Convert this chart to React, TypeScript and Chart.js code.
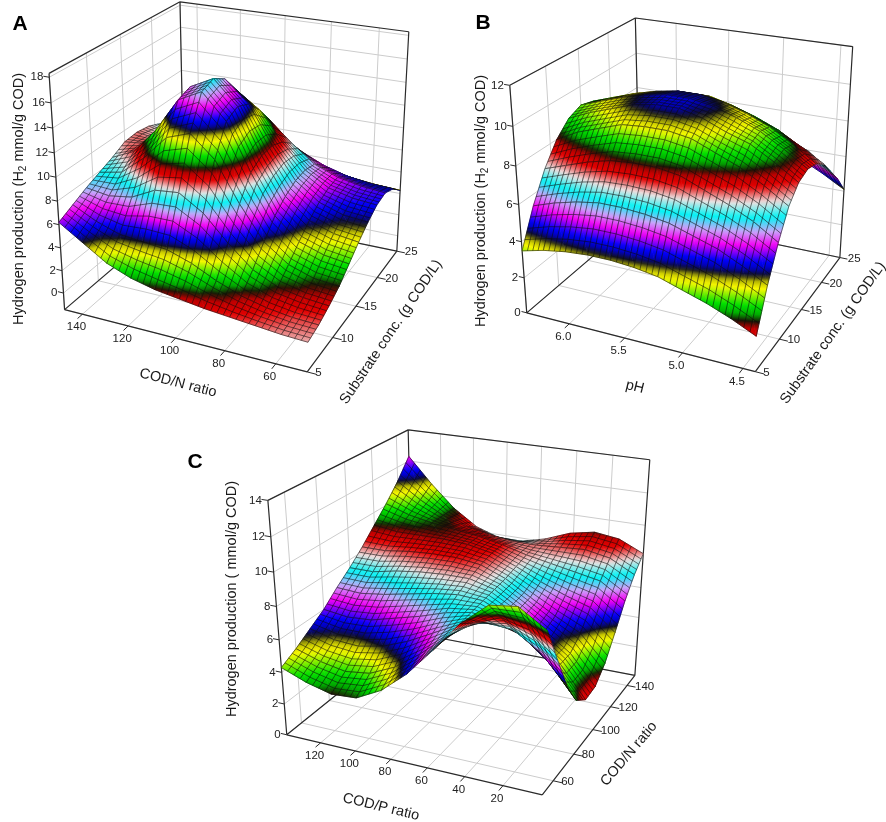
import { useEffect, useRef } from "react";
import Chart, { ChartConfiguration, Plugin } from "chart.js/auto";

// ---------------- Panel A: COD/N ratio x substrate concentration ----------------
const codNRatioA = [48, 58, 68, 78, 88, 98, 108, 118, 128, 138, 148];
const substrateA = [5, 7, 9, 11, 13, 15, 17, 19, 21, 23, 25];
// rows follow substrateA, columns follow codNRatioA
const hydrogenA = [
  [1.0, 1.1, 1.3, 1.5, 1.7, 2.0, 2.3, 2.8, 3.6, 4.9, 6.2],
  [1.3, 1.4, 1.7, 2.2, 3.0, 4.0, 4.7, 4.9, 5.1, 5.8, 6.8],
  [1.8, 2.0, 2.4, 3.4, 5.2, 7.3, 8.6, 8.4, 7.4, 7.1, 7.4],
  [2.4, 2.6, 3.3, 4.8, 7.6, 10.9, 12.7, 12.0, 9.9, 8.3, 7.9],
  [3.3, 3.6, 4.3, 6.1, 9.4, 13.3, 15.4, 14.4, 11.5, 9.3, 8.4],
  [4.2, 4.5, 5.2, 6.9, 10.0, 13.8, 15.8, 14.8, 11.6, 9.2, 9.0],
  [5.0, 5.2, 5.9, 7.4, 10.1, 13.3, 15.1, 14.2, 10.8, 8.8, 9.1],
  [5.6, 5.8, 6.3, 7.5, 9.6, 12.1, 13.5, 12.8, 9.8, 8.4, 8.9],
  [5.8, 6.0, 6.4, 7.2, 8.7, 10.5, 11.4, 10.9, 8.7, 8.0, 8.4],
  [5.3, 5.4, 5.7, 6.3, 7.2, 8.3, 8.8, 8.6, 7.4, 7.1, 7.5],
  [4.3, 4.4, 4.6, 4.9, 5.4, 6.0, 6.3, 6.3, 6.2, 6.3, 6.6],
];
const codNTicksA = [60, 80, 100, 120, 140];
const substrateTicks = [5, 10, 15, 20, 25];
const hydrogenTicksA = [0, 2, 4, 6, 8, 10, 12, 14, 16, 18];

// ---------------- Panel B: pH x substrate concentration ----------------
const pHB = [4.4, 4.6, 4.8, 5.0, 5.2, 5.4, 5.6, 5.8, 6.0, 6.2, 6.4];
const substrateB = [5, 7, 9, 11, 13, 15, 17, 19, 21, 23, 25];
const hydrogenB = [
  [1.9, 2.5, 3.0, 3.4, 3.8, 4.0, 4.1, 4.1, 4.0, 3.8, 3.5],
  [3.9, 4.6, 5.2, 5.6, 6.0, 6.2, 6.3, 6.3, 6.1, 5.8, 5.4],
  [5.5, 6.3, 6.9, 7.4, 7.9, 8.1, 8.1, 8.0, 7.7, 7.3, 6.9],
  [6.8, 7.6, 8.3, 8.8, 9.3, 9.5, 9.5, 9.4, 9.0, 8.6, 8.0],
  [7.5, 8.3, 9.0, 9.4, 9.9, 10.2, 10.2, 10.0, 9.6, 9.2, 8.7],
  [7.7, 8.5, 9.2, 9.7, 10.1, 10.3, 10.3, 10.1, 9.8, 9.4, 9.0],
  [7.5, 8.3, 9.0, 9.5, 9.9, 10.1, 10.1, 9.9, 9.6, 9.2, 8.8],
  [7.0, 7.7, 8.4, 8.9, 9.3, 9.6, 9.6, 9.4, 9.1, 8.7, 8.3],
  [6.1, 7.0, 7.5, 8.0, 8.4, 8.6, 8.7, 8.5, 8.3, 8.0, 7.5],
  [5.2, 5.9, 6.5, 6.9, 7.4, 7.6, 7.6, 7.5, 7.2, 7.0, 6.6],
  [4.1, 4.8, 5.4, 5.7, 6.2, 6.4, 6.5, 6.4, 6.2, 5.9, 5.5],
];
const pHTicksB = [4.5, 5.0, 5.5, 6.0];
const hydrogenTicksB = [0, 2, 4, 6, 8, 10, 12];

// ---------------- Panel C: COD/P ratio x COD/N ratio ----------------
const codPRatioC = [0, 14, 28, 42, 56, 70, 84, 98, 112, 126, 140];
const codNRatioC = [50, 60, 70, 80, 90, 100, 110, 120, 130, 140, 150];
const hydrogenC = [
  [9.5, 10.5, 10.3, 9.0, 7.2, 5.5, 4.2, 3.4, 3.3, 3.7, 4.3],
  [7.2, 8.6, 9.0, 8.4, 7.3, 6.0, 4.9, 4.2, 4.0, 4.3, 4.8],
  [5.0, 6.7, 7.7, 7.8, 7.4, 6.6, 5.8, 5.2, 4.9, 5.0, 5.4],
  [3.4, 5.3, 6.6, 7.3, 7.5, 7.2, 6.7, 6.3, 5.9, 5.8, 6.0],
  [2.7, 4.6, 5.9, 6.9, 7.6, 7.7, 7.5, 7.2, 6.9, 6.7, 6.8],
  [2.8, 4.6, 5.7, 6.8, 7.7, 8.1, 8.1, 8.0, 7.8, 7.5, 7.5],
  [3.6, 5.2, 6.0, 6.9, 7.8, 8.4, 8.6, 8.6, 8.5, 8.3, 8.3],
  [4.9, 6.2, 6.7, 7.3, 8.0, 8.6, 8.9, 9.0, 9.0, 9.0, 9.2],
  [6.3, 7.3, 7.6, 7.9, 8.2, 8.6, 8.9, 9.1, 9.3, 9.6, 10.1],
  [7.4, 8.2, 8.5, 8.4, 8.3, 8.3, 8.5, 8.8, 9.3, 10.1, 11.1],
  [8.2, 8.9, 9.1, 8.8, 8.2, 7.8, 7.8, 8.3, 9.3, 10.7, 12.3],
];
const codPTicksC = [20, 40, 60, 80, 100, 120];
const codNTicksC = [60, 80, 100, 120, 140];
const hydrogenTicksC = [0, 2, 4, 6, 8, 10, 12, 14];

// ---------------------------------------------------------------------------
type Vec3 = [number, number, number];
type Pt = [number, number];
type TitlePart = { text: string; sub?: boolean };

interface Panel {
  xs: number[];
  ys: number[];
  zs: number[][];
  xRange: [number, number];
  yRange: [number, number];
  zRange: [number, number];
  xTicks: number[];
  yTicks: number[];
  zTicks: number[];
  xDecimals: number;
  xTitle: string;
  yTitle: string;
  zTitle: TitlePart[];
  letter: string;
  corners: Pt[];
  letterAt: Pt;
  zTitleAt: Pt;
  xTitleAt: [number, number, number];
  yTitleAt: [number, number, number];
  z0: number;
  period: number;
}

const PAGE_W = 886;
const PAGE_H = 822;
const FONT = "'Liberation Sans', Arial, sans-serif";
const MESH_SUB = 4; // mesh lines drawn per data cell

const h2Title: TitlePart[] = [
  { text: "Hydrogen production (H" },
  { text: "2", sub: true },
  { text: " mmol/g COD)" },
];

// box corner order used for the camera fit
const BOX: Vec3[] = [
  [0, 0, 0], [1, 0, 0], [1, 1, 0], [0, 1, 0],
  [0, 0, 1], [1, 0, 1], [1, 1, 1], [0, 1, 1],
];

const panels: Panel[] = [
  {
    xs: codNRatioA, ys: substrateA, zs: hydrogenA,
    xRange: [48, 148], yRange: [5, 25], zRange: [-1.5, 18.3],
    xTicks: codNTicksA, yTicks: substrateTicks, zTicks: hydrogenTicksA, xDecimals: 0,
    xTitle: "COD/N ratio", yTitle: "Substrate conc. (g COD/L)", zTitle: h2Title, letter: "A",
    corners: [[65, 310], [307, 372], [397, 251], [184, 207], [49, 73], [313, 117], [409, 32], [180, 2]],
    letterAt: [20, 24], zTitleAt: [19, 199], xTitleAt: [178, 383, 14.5], yTitleAt: [391, 332, -56],
    z0: 0.8, period: 7.9,
  },
  {
    xs: pHB, ys: substrateB, zs: hydrogenB,
    xRange: [4.4, 6.4], yRange: [5, 25], zRange: [0, 12],
    xTicks: pHTicksB, yTicks: substrateTicks, zTicks: hydrogenTicksB, xDecimals: 1,
    xTitle: "pH", yTitle: "Substrate conc. (g COD/L)", zTitle: h2Title, letter: "B",
    corners: [[527, 313], [755, 372], [840, 257], [640, 216], [510, 85], [761.5, 127], [853, 47], [635, 18]],
    letterAt: [483, 23], zTitleAt: [481, 201], xTitleAt: [635, 387, 14], yTitleAt: [833, 333, -54.5],
    z0: 1.3, period: 5.7,
  },
  {
    xs: codPRatioC, ys: codNRatioC, zs: hydrogenC,
    xRange: [0, 140], yRange: [50, 150], zRange: [0, 14],
    xTicks: codPTicksC, yTicks: codNTicksC, zTicks: hydrogenTicksC, xDecimals: 0,
    xTitle: "COD/P ratio", yTitle: "COD/N ratio",
    zTitle: [{ text: "Hydrogen production ( mmol/g COD)" }], letter: "C",
    corners: [[287, 735], [542, 795], [635, 675], [413, 633], [268, 500], [550, 544], [650, 460], [408, 430]],
    letterAt: [195, 462], zTitleAt: [232, 599], xTitleAt: [381, 807, 13.7], yTitleAt: [629, 754, -49.8],
    z0: 2.11, period: 5.9,
  },
];

// colour bands repeating with height
const BAND_STOPS: [number, number[]][] = [
  [0, [236, 226, 226]],
  [0.1, [228, 0, 0]],
  [0.16, [190, 0, 0]],
  [0.205, [25, 20, 5]],
  [0.25, [0, 170, 0]],
  [0.31, [0, 225, 0]],
  [0.43, [250, 250, 0]],
  [0.475, [195, 195, 0]],
  [0.52, [15, 15, 30]],
  [0.565, [0, 0, 190]],
  [0.61, [0, 0, 250]],
  [0.72, [245, 0, 245]],
  [0.81, [200, 165, 250]],
  [0.9, [0, 245, 245]],
  [1, [236, 226, 226]],
];

function bandColor(z: number, panel: Panel): string {
  let c = ((z - panel.z0) / panel.period) % 1;
  if (c < 0) c += 1;
  for (let i = 1; i < BAND_STOPS.length; i++) {
    const [t1, c1] = BAND_STOPS[i];
    const [t0, c0] = BAND_STOPS[i - 1];
    if (c <= t1) {
      const f = (c - t0) / (t1 - t0);
      const rgb = c0.map((v, k) => Math.round(v + (c1[k] - v) * f));
      return `rgb(${rgb[0]},${rgb[1]},${rgb[2]})`;
    }
  }
  return "rgb(236,226,226)";
}

// perspective camera fitted to the drawn box corners (DLT)
function fitCamera(screen: Pt[]): number[] {
  const s = 0.01;
  const n = 11;
  const M = Array.from({ length: n }, () => new Array(n + 1).fill(0));
  const addRow = (row: number[], rhs: number) => {
    for (let i = 0; i < n; i++) {
      for (let j = 0; j < n; j++) M[i][j] += row[i] * row[j];
      M[i][n] += row[i] * rhs;
    }
  };
  BOX.forEach(([X, Y, Z], k) => {
    const u = screen[k][0] * s;
    const v = screen[k][1] * s;
    addRow([X, Y, Z, 1, 0, 0, 0, 0, -u * X, -u * Y, -u * Z], u);
    addRow([0, 0, 0, 0, X, Y, Z, 1, -v * X, -v * Y, -v * Z], v);
  });
  for (let c = 0; c < n; c++) {
    let p = c;
    for (let r = c + 1; r < n; r++) if (Math.abs(M[r][c]) > Math.abs(M[p][c])) p = r;
    [M[c], M[p]] = [M[p], M[c]];
    for (let r = 0; r < n; r++) {
      if (r === c) continue;
      const f = M[r][c] / M[c][c];
      for (let k = c; k <= n; k++) M[r][k] -= f * M[c][k];
    }
  }
  return M.map((row, i) => row[n] / row[i]);
}

function project(cam: number[], [x, y, z]: Vec3) {
  const w = cam[8] * x + cam[9] * y + cam[10] * z + 1;
  return {
    u: (cam[0] * x + cam[1] * y + cam[2] * z + cam[3]) / w / 0.01,
    v: (cam[4] * x + cam[5] * y + cam[6] * z + cam[7]) / w / 0.01,
    w,
  };
}

function fillTri(ctx: CanvasRenderingContext2D, p: Pt[], z: number[], panel: Panel) {
  const [x0, y0] = p[0];
  const [x1, y1] = p[1];
  const [x2, y2] = p[2];
  ctx.beginPath();
  ctx.moveTo(x0, y0);
  ctx.lineTo(x1, y1);
  ctx.lineTo(x2, y2);
  ctx.closePath();
  const det = (x1 - x0) * (y2 - y0) - (x2 - x0) * (y1 - y0);
  const zlo = Math.min(...z);
  const zhi = Math.max(...z);
  let style: string | CanvasGradient = bandColor((z[0] + z[1] + z[2]) / 3, panel);
  if (Math.abs(det) > 1e-3 && zhi - zlo > 1e-4) {
    const a = ((z[1] - z[0]) * (y2 - y0) - (z[2] - z[0]) * (y1 - y0)) / det;
    const b = ((x1 - x0) * (z[2] - z[0]) - (x2 - x0) * (z[1] - z[0])) / det;
    const g2 = a * a + b * b;
    const k = z.indexOf(zlo);
    const sx = p[k][0];
    const sy = p[k][1];
    const grad = ctx.createLinearGradient(sx, sy, sx + ((zhi - zlo) * a) / g2, sy + ((zhi - zlo) * b) / g2);
    const steps = Math.max(2, Math.ceil(((zhi - zlo) / panel.period) * 40) + 1);
    for (let i = 0; i < steps; i++) {
      const t = i / (steps - 1);
      grad.addColorStop(t, bandColor(zlo + t * (zhi - zlo), panel));
    }
    style = grad;
  }
  ctx.fillStyle = style;
  ctx.fill();
  ctx.strokeStyle = style;
  ctx.lineWidth = 0.7;
  ctx.stroke();
}

const lerp = (a: Pt, b: Pt, t: number): Pt => [a[0] + (b[0] - a[0]) * t, a[1] + (b[1] - a[1]) * t];

function drawTitle(ctx: CanvasRenderingContext2D, parts: TitlePart[], x: number, y: number, deg: number) {
  ctx.save();
  ctx.translate(x, y);
  ctx.rotate((deg * Math.PI) / 180);
  ctx.textAlign = "left";
  ctx.textBaseline = "middle";
  ctx.fillStyle = "#1a1a1a";
  const fontOf = (p: TitlePart) => (p.sub ? `10px ${FONT}` : `14.5px ${FONT}`);
  const widths = parts.map((p) => {
    ctx.font = fontOf(p);
    return ctx.measureText(p.text).width;
  });
  let cx = -widths.reduce((a, b) => a + b, 0) / 2;
  parts.forEach((p, i) => {
    ctx.font = fontOf(p);
    ctx.fillText(p.text, cx, p.sub ? 4 : 0);
    cx += widths[i];
  });
  ctx.restore();
}

function SurfacePanel({ panel }: { panel: Panel }) {
  const canvasRef = useRef<HTMLCanvasElement | null>(null);
  const chartRef = useRef<Chart<"scatter"> | null>(null);

  useEffect(() => {
    const cam = fitCamera(panel.corners);
    const nx = (v: number) => (panel.xRange[1] - v) / (panel.xRange[1] - panel.xRange[0]);
    const ny = (v: number) => (v - panel.yRange[0]) / (panel.yRange[1] - panel.yRange[0]);
    const nz = (v: number) => (v - panel.zRange[0]) / (panel.zRange[1] - panel.zRange[0]);

    const vertices: { x: number; y: number }[] = [];
    const depth: number[] = [];
    const heights: number[] = [];
    panel.ys.forEach((yv, j) => {
      panel.xs.forEach((xv, i) => {
        const zv = panel.zs[j][i];
        const q = project(cam, [nx(xv), ny(yv), nz(zv)]);
        vertices.push({ x: q.u, y: q.v });
        depth.push(q.w);
        heights.push(zv);
      });
    });
    const farSign = project(cam, [0, 1, 0]).w > project(cam, [1, 0, 0]).w ? 1 : -1;

    const surfacePlugin: Plugin<"scatter"> = {
      id: "surface3d",
      afterDatasetsDraw(chart) {
        const ctx = chart.ctx;
        const sx = chart.scales.x;
        const sy = chart.scales.y;
        const P = (p: Vec3): Pt => {
          const q = project(cam, p);
          return [sx.getPixelForValue(q.u), sy.getPixelForValue(q.v)];
        };
        const seg = (a: Vec3, b: Vec3) => {
          const A = P(a);
          const B = P(b);
          ctx.moveTo(A[0], A[1]);
          ctx.lineTo(B[0], B[1]);
        };
        ctx.save();

        // wall and floor grid
        ctx.beginPath();
        ctx.strokeStyle = "#cccccc";
        ctx.lineWidth = 1;
        panel.xTicks.forEach((t) => {
          const x = nx(t);
          seg([x, 0, 0], [x, 1, 0]);
          seg([x, 1, 0], [x, 1, 1]);
        });
        panel.yTicks.forEach((t) => {
          const y = ny(t);
          seg([0, y, 0], [1, y, 0]);
          seg([0, y, 0], [0, y, 1]);
        });
        panel.zTicks.forEach((t) => {
          const z = nz(t);
          seg([0, 0, z], [0, 1, z]);
          seg([0, 1, z], [1, 1, z]);
        });
        ctx.stroke();

        // box frame
        ctx.beginPath();
        ctx.strokeStyle = "#2b2b2b";
        ctx.lineWidth = 1.2;
        seg([0, 0, 0], [1, 0, 0]);
        seg([1, 0, 0], [1, 1, 0]);
        seg([1, 1, 0], [0, 1, 0]);
        seg([0, 1, 0], [0, 0, 0]);
        seg([0, 0, 0], [0, 0, 1]);
        seg([0, 1, 0], [0, 1, 1]);
        seg([1, 1, 0], [1, 1, 1]);
        seg([0, 0, 1], [0, 1, 1]);
        seg([0, 1, 1], [1, 1, 1]);
        ctx.stroke();

        // surface, painted back to front
        const meta = chart.getDatasetMeta(0);
        const pts: Pt[] = meta.data.map((el) => [el.x, el.y]);
        const nxv = panel.xs.length;
        const quads: { ids: number[]; d: number }[] = [];
        for (let j = 0; j < panel.ys.length - 1; j++) {
          for (let i = 0; i < nxv - 1; i++) {
            const ids = [j * nxv + i, j * nxv + i + 1, (j + 1) * nxv + i + 1, (j + 1) * nxv + i];
            quads.push({ ids, d: ids.reduce((s, k) => s + depth[k], 0) / 4 });
          }
        }
        quads.sort((a, b) => (b.d - a.d) * farSign);
        ctx.lineJoin = "round";
        quads.forEach(({ ids: [a, b, c, d] }) => {
          fillTri(ctx, [pts[a], pts[b], pts[c]], [heights[a], heights[b], heights[c]], panel);
          fillTri(ctx, [pts[a], pts[c], pts[d]], [heights[a], heights[c], heights[d]], panel);
          ctx.beginPath();
          ctx.moveTo(pts[a][0], pts[a][1]);
          ctx.lineTo(pts[b][0], pts[b][1]);
          ctx.lineTo(pts[c][0], pts[c][1]);
          ctx.lineTo(pts[d][0], pts[d][1]);
          ctx.closePath();
          for (let s = 1; s < MESH_SUB; s++) {
            const t = s / MESH_SUB;
            const p1 = lerp(pts[a], pts[b], t);
            const p2 = lerp(pts[d], pts[c], t);
            const p3 = lerp(pts[a], pts[d], t);
            const p4 = lerp(pts[b], pts[c], t);
            ctx.moveTo(p1[0], p1[1]);
            ctx.lineTo(p2[0], p2[1]);
            ctx.moveTo(p3[0], p3[1]);
            ctx.lineTo(p4[0], p4[1]);
          }
          ctx.strokeStyle = "rgba(10,10,10,0.8)";
          ctx.lineWidth = 0.7;
          ctx.stroke();
        });

        // ticks
        ctx.beginPath();
        ctx.strokeStyle = "#2b2b2b";
        ctx.lineWidth = 1;
        panel.xTicks.forEach((t) => seg([nx(t), 0, 0], [nx(t), -0.035, 0]));
        panel.yTicks.forEach((t) => seg([1, ny(t), 0], [1.035, ny(t), 0]));
        panel.zTicks.forEach((t) => seg([0, 0, nz(t)], [-0.025, 0, nz(t)]));
        ctx.stroke();

        // tick labels
        ctx.fillStyle = "#222222";
        ctx.font = `11.5px ${FONT}`;
        ctx.textBaseline = "middle";
        ctx.textAlign = "center";
        panel.xTicks.forEach((t) => {
          const [x, y] = P([nx(t), 0, 0]);
          ctx.fillText(t.toFixed(panel.xDecimals), x - 6, y + 13);
        });
        ctx.textAlign = "left";
        panel.yTicks.forEach((t) => {
          const [x, y] = P([1, ny(t), 0]);
          ctx.fillText(String(t), x + 8, y + 1);
        });
        ctx.textAlign = "right";
        panel.zTicks.forEach((t) => {
          const [x, y] = P([0, 0, nz(t)]);
          ctx.fillText(String(t), x - 6, y);
        });

        // axis titles and panel letter
        drawTitle(ctx, panel.zTitle, panel.zTitleAt[0], panel.zTitleAt[1], -90);
        drawTitle(ctx, [{ text: panel.xTitle }], panel.xTitleAt[0], panel.xTitleAt[1], panel.xTitleAt[2]);
        drawTitle(ctx, [{ text: panel.yTitle }], panel.yTitleAt[0], panel.yTitleAt[1], panel.yTitleAt[2]);
        ctx.font = `bold 21px ${FONT}`;
        ctx.textAlign = "center";
        ctx.textBaseline = "middle";
        ctx.fillStyle = "#000000";
        ctx.fillText(panel.letter, panel.letterAt[0], panel.letterAt[1]);
        ctx.restore();
      },
    };

    const config: ChartConfiguration<"scatter"> = {
      type: "scatter",
      data: {
        datasets: [{ data: vertices, pointRadius: 0, pointHoverRadius: 0, showLine: false }],
      },
      options: {
        animation: false,
        responsive: false,
        events: [],
        layout: { padding: 0, autoPadding: false },
        scales: {
          x: { type: "linear", min: 0, max: PAGE_W, display: false },
          y: { type: "linear", min: 0, max: PAGE_H, reverse: true, display: false },
        },
        plugins: { legend: { display: false }, tooltip: { enabled: false } },
      },
      plugins: [surfacePlugin],
    };

    if (chartRef.current) chartRef.current.destroy();
    if (canvasRef.current) chartRef.current = new Chart(canvasRef.current, config);
    return () => {
      if (chartRef.current) {
        chartRef.current.destroy();
        chartRef.current = null;
      }
    };
  }, [panel]);

  return (
    <canvas
      ref={canvasRef}
      width={PAGE_W}
      height={PAGE_H}
      style={{ position: "absolute", left: 0, top: 0, width: PAGE_W, height: PAGE_H }}
    />
  );
}

export default function App() {
  return (
    <div style={{ position: "absolute", left: 0, top: 0, width: PAGE_W, height: PAGE_H, background: "#fff" }}>
      {panels.map((p) => (
        <SurfacePanel key={p.letter} panel={p} />
      ))}
    </div>
  );
}
